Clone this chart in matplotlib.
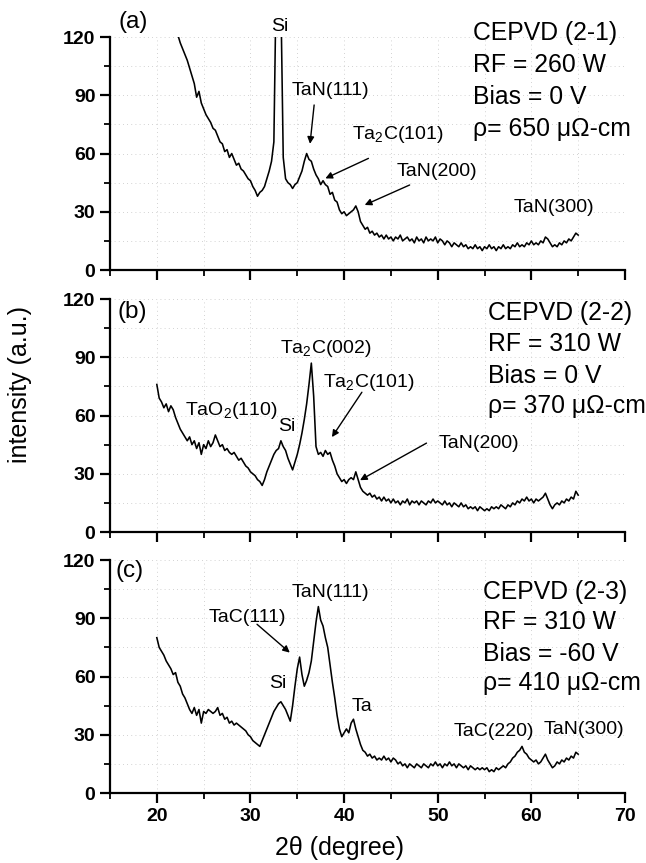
import numpy as np
import matplotlib
matplotlib.use("Agg")
import matplotlib.pyplot as plt
from matplotlib.ticker import MultipleLocator

plt.rcParams['font.family'] = ['Liberation Sans', 'DejaVu Sans']
plt.rcParams['mathtext.fontset'] = 'custom'
plt.rcParams['mathtext.rm'] = 'Liberation Sans'

STEP = 0.25

# ---------------- data (2theta grid starts + intensities) ----------------
start_a = 22.0
int_a = [124, 121, 117, 114, 111, 108, 104, 100, 96, 89, 92, 86, 83, 80, 78, 76,
         73, 72, 69, 66, 65, 61, 62, 58, 60, 57, 54, 55, 52, 51, 49, 47,
         46, 43, 41, 38, 40, 41, 43, 47, 51, 56, 66, 150, 400, 140, 58, 47,
         45, 44, 42, 44, 45, 48, 51, 56, 60, 57, 56, 52, 49, 47, 44, 46,
         44, 43, 39, 40, 36, 35, 31, 29, 30, 28, 29, 30, 31, 33, 30, 25,
         23, 21, 22, 19, 20, 18, 19, 17, 18, 16, 18, 16, 17, 15, 17, 16,
         18, 15, 16, 17, 15, 16, 14, 17, 15, 16, 14, 17, 15, 16, 15, 17,
         14, 16, 15, 13, 15, 14, 12, 14, 13, 12, 14, 12, 13, 11, 12, 11,
         13, 11, 12, 10, 12, 11, 13, 11, 12, 10, 12, 11, 13, 11, 12, 11,
         13, 12, 14, 12, 13, 12, 14, 13, 15, 13, 14, 13, 15, 14, 17, 16,
         14, 12, 13, 12, 14, 13, 15, 14, 16, 15, 17, 19, 18]

start_b = 20.0
int_b = [76, 69, 67, 64, 66, 62, 65, 63, 59, 56, 53, 51, 49, 47, 49, 45,
         47, 43, 46, 40, 45, 43, 47, 44, 46, 50, 47, 44, 45, 42, 43, 41,
         40, 41, 39, 37, 38, 36, 34, 33, 31, 30, 29, 27, 26, 24, 27, 31,
         34, 37, 40, 42, 43, 47, 44, 42, 38, 35, 32, 36, 40, 45, 51, 58,
         66, 76, 87, 70, 44, 40, 41, 39, 42, 40, 41, 37, 34, 30, 28, 26,
         27, 25, 27, 28, 27, 31, 27, 23, 21, 20, 19, 20, 18, 19, 17, 18,
         16, 18, 16, 17, 15, 17, 15, 16, 14, 16, 15, 17, 14, 16, 15, 16,
         14, 16, 15, 14, 16, 15, 17, 15, 16, 15, 14, 16, 14, 15, 13, 15,
         14, 13, 15, 13, 14, 12, 13, 12, 13, 11, 13, 12, 11, 12, 11, 13,
         12, 13, 12, 14, 13, 12, 14, 13, 15, 14, 16, 15, 17, 16, 18, 16,
         17, 15, 17, 16, 17, 18, 20, 17, 14, 12, 14, 15, 14, 16, 15, 17,
         16, 18, 17, 21, 19]

start_c = 20.0
int_c = [80, 75, 73, 71, 68, 66, 64, 61, 62, 57, 55, 51, 49, 46, 43, 41,
         44, 40, 43, 36, 42, 41, 43, 42, 41, 42, 44, 40, 41, 38, 39, 36,
         37, 35, 36, 35, 34, 33, 32, 30, 29, 27, 26, 25, 24, 27, 30, 33,
         36, 39, 42, 44, 46, 47, 45, 43, 40, 37, 45, 55, 64, 70, 61, 55,
         58, 62, 68, 78, 88, 96, 89, 86, 80, 75, 66, 57, 49, 40, 33, 29,
         31, 33, 31, 36, 38, 33, 29, 25, 22, 21, 19, 20, 18, 19, 17, 18,
         17, 19, 17, 18, 16, 18, 17, 15, 16, 14, 15, 13, 15, 14, 13, 15,
         14, 13, 15, 14, 13, 15, 14, 16, 14, 15, 13, 15, 14, 16, 14, 15,
         13, 15, 14, 13, 14, 12, 14, 13, 12, 13, 12, 13, 12, 13, 11, 12,
         11, 13, 12, 13, 14, 13, 15, 16, 18, 19, 21, 22, 24, 21, 20, 18,
         17, 16, 17, 15, 16, 18, 20, 17, 15, 13, 14, 16, 15, 17, 16, 18,
         17, 19, 18, 21, 20]

panel_tags = ['(a)', '(b)', '(c)']
info_lines = [
    ['CEPVD (2-1)', 'RF = 260 W', 'Bias = 0 V', 'ρ= 650 μΩ-cm'],
    ['CEPVD (2-2)', 'RF = 310 W', 'Bias = 0 V', 'ρ= 370 μΩ-cm'],
    ['CEPVD (2-3)', 'RF = 310 W', 'Bias = -60 V', 'ρ= 410 μΩ-cm'],
]

# peak labels: (text, x, y)
labels_a = [('Si', 33.15, 125.5), ('TaN(111)', 38.5, 92.7),
            (r'Ta$_\mathregular{2}$C(101)', 45.7, 70), ('TaN(200)', 49.9, 50.5),
            ('TaN(300)', 62.4, 32)]
arrows_a = [((36.8, 85), (36.36, 65)), ((42.6, 57.5), (38.0, 47.2)),
            ((47.0, 43.8), (42.2, 33.5))]
labels_b = [(r'TaO$_\mathregular{2}$(110)', 27.9, 62.5), ('Si', 33.9, 54.5),
            (r'Ta$_\mathregular{2}$C(002)', 38.0, 94.4),
            (r'Ta$_\mathregular{2}$C(101)', 42.6, 77), ('TaN(200)', 54.4, 45.6)]
arrows_b = [((41.9, 72), (38.7, 48.9)), ((48.8, 45.8), (41.7, 26.7))]
labels_c = [('TaN(111)', 38.5, 103.5), ('TaC(111)', 29.7, 90.5), ('Si', 32.9, 56.4),
            ('Ta', 41.9, 44.5), ('TaC(220)', 56.0, 31.6), ('TaN(300)', 65.6, 32.6)]
arrows_c = [((30.7, 86.9), (34.2, 72.3))]

tag_pos = [(15.9, 127.7), (15.8, 113.3), (15.6, 114.3)]
info_pos = [(53.8, [122, 105.6, 89.1, 72.6]),
            (55.4, [112.8, 96.9, 80.5, 65.1]),
            (54.8, [103.5, 87.9, 71.4, 56.9])]

# ---------------- figure ----------------
fig = plt.figure(figsize=(6.46, 8.63), dpi=100)
left, width = 0.1703, 0.7972
bottoms = [0.6871, 0.3835, 0.0811]
height = 0.2700

series = [(start_a, int_a), (start_b, int_b), (start_c, int_c)]
all_labels = [labels_a, labels_b, labels_c]
all_arrows = [arrows_a, arrows_b, arrows_c]

for i in range(3):
    ax = fig.add_axes([left, bottoms[i], width, height])
    st, vals = series[i]
    x = st + STEP * np.arange(len(vals))
    ax.plot(x, vals, color='black', lw=1.15)
    ax.set_xlim(15, 70)
    ax.set_ylim(0, 120)
    for s in ['top', 'right']:
        ax.spines[s].set_visible(False)
    for s in ['left', 'bottom']:
        ax.spines[s].set_linewidth(1.6)
    ax.xaxis.set_major_locator(MultipleLocator(10))
    ax.xaxis.set_minor_locator(MultipleLocator(5))
    ax.yaxis.set_major_locator(MultipleLocator(30))
    ax.yaxis.set_minor_locator(MultipleLocator(15))
    ax.tick_params(which='major', direction='out', length=7, width=1.6,
                   labelsize=14)
    ax.tick_params(which='minor', direction='out', length=4, width=1.3)
    ax.grid(True, which='both', color='#c4c4c4', lw=0.6, ls=(0, (1, 4)))
    for t in ax.get_yticklabels():
        t.set_fontweight('bold')
    if i < 2:
        ax.tick_params(axis='x', labelbottom=False)
    else:
        for t in ax.get_xticklabels():
            t.set_fontweight('bold')

    ax.text(tag_pos[i][0], tag_pos[i][1], panel_tags[i], fontsize=17.5,
            ha='left', va='center', clip_on=False)
    xi, ys = info_pos[i]
    for line, yy in zip(info_lines[i], ys):
        ax.text(xi, yy, line, fontsize=17.8, ha='left', va='center',
                clip_on=False)
    for txt, tx, ty in all_labels[i]:
        ax.text(tx, ty, txt, fontsize=14, ha='center', va='center',
                clip_on=False)
    for (p0, p1) in all_arrows[i]:
        ax.annotate('', xy=p1, xytext=p0,
                    arrowprops=dict(arrowstyle='-|>', color='black', lw=1.0,
                                    mutation_scale=10, shrinkA=0, shrinkB=0))

fig.text(0.031, 0.554, 'intensity (a.u.)', rotation=90, fontsize=18,
         ha='center', va='center')
fig.text(0.526, 0.0174, '2θ (degree)', fontsize=18, ha='center', va='center')

fig.savefig('out.png', dpi=100)
